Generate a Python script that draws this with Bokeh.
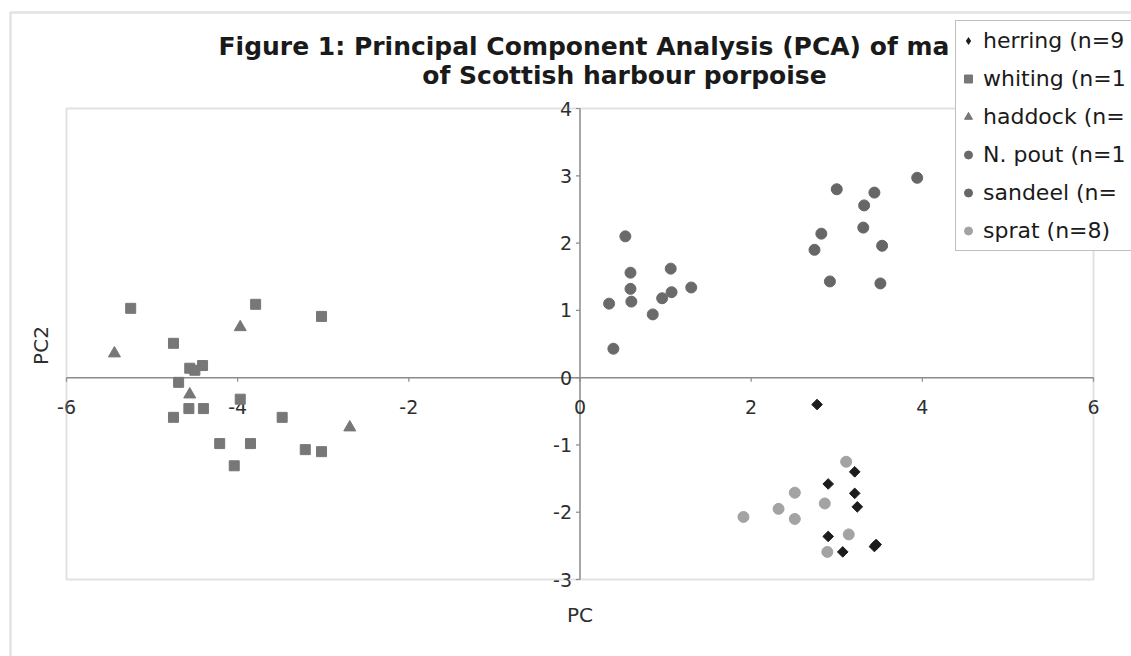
import math

from bokeh.plotting import figure
from bokeh.models import Range1d, Label, Legend, LegendItem, BoxAnnotation
from bokeh.embed import file_html
from bokeh.resources import INLINE

# PC1 / PC2 scores per prey species
herring_pc1 = [2.77, 3.21, 2.90, 3.21, 3.24, 2.90, 3.07, 3.44, 3.46]
herring_pc2 = [-0.40, -1.40, -1.58, -1.72, -1.92, -2.36, -2.59, -2.51, -2.48]

whiting_pc1 = [-5.25, -3.79, -3.02, -4.75, -4.41, -4.56, -4.50, -4.69, -3.97,
               -4.57, -4.40, -4.75, -3.48, -4.21, -3.85, -3.21, -3.02, -4.04]
whiting_pc2 = [1.03, 1.09, 0.91, 0.51, 0.18, 0.14, 0.11, -0.07, -0.32,
               -0.46, -0.46, -0.59, -0.59, -0.98, -0.98, -1.07, -1.10, -1.31]

haddock_pc1 = [-5.44, -3.97, -4.56, -2.69]
haddock_pc2 = [0.36, 0.75, -0.25, -0.74]

npout_pc1 = [0.53, 0.59, 0.59, 0.60, 0.34, 0.85, 0.96, 1.07, 1.06, 1.30, 0.39]
npout_pc2 = [2.10, 1.56, 1.32, 1.13, 1.10, 0.94, 1.18, 1.27, 1.62, 1.34, 0.43]

sandeel_pc1 = [3.00, 3.44, 3.32, 3.31, 2.82, 2.74, 3.53, 2.92, 3.51, 3.94]
sandeel_pc2 = [2.80, 2.75, 2.56, 2.23, 2.14, 1.90, 1.96, 1.43, 1.40, 2.97]

sprat_pc1 = [3.11, 2.51, 2.86, 2.32, 1.91, 2.51, 3.14, 2.89]
sprat_pc2 = [-1.25, -1.71, -1.87, -1.95, -2.07, -2.10, -2.33, -2.59]

# legend entries run off the right edge of the page, so only their
# leading part is shown
legend_labels = ["herring (n=9", "whiting (n=1", "haddock (n=",
                 "N. pout (n=1", "sandeel (n=", "sprat (n=8)"]

x_ticks = [-6, -4, -2, 0, 2, 4, 6]
y_ticks = [-3, -2, -1, 0, 1, 2, 3, 4]

title_line1 = "Figure 1: Principal Component Analysis (PCA) of ma"
title_line2 = "of Scottish harbour porpoise"
x_title = "PC"
y_title = "PC2"

# page and plot-area geometry in pixels; the plot area spans X0..X1, Y0..Y1
W, H = 1131, 656
PL, PT, PR, PB = 66, 108, 1093, 579
X0, X1, Y0, Y1 = -6, 6, -3, 4
KX = (X1 - X0) / (PR - PL)
KY = (Y1 - Y0) / (PB - PT)


def at_x(px):
    return X0 + (px - PL) * KX


def at_y(py):
    return Y1 - (py - PT) * KY


p = figure(width=W, height=H,
           x_range=Range1d(at_x(0), at_x(W)), y_range=Range1d(at_y(H), at_y(0)),
           min_border=0, title=None,
           x_axis_location=None, y_axis_location=None,
           output_backend="svg", toolbar_location=None, tools="",
           background_fill_color="white", border_fill_color="white")
p.grid.visible = False
p.outline_line_color = None

FONT = "DejaVu Sans"
AXIS_GRAY = "#8a8a8a"
BORDER_GRAY = "#a0a0a0"
HERRING = "#1c1c1c"

# outer chart border (its right and bottom edges lie beyond the page)
p.add_layout(BoxAnnotation(left=at_x(10), right=at_x(W + 80),
                           top=at_y(12), bottom=at_y(H + 80),
                           fill_color=None, line_color=BORDER_GRAY,
                           line_width=2.5))
# plot-area border
p.add_layout(BoxAnnotation(left=X0, right=X1, bottom=Y0, top=Y1,
                           fill_color=None, line_color="#9a9a9a",
                           line_width=2))

# axes crossing at the origin
p.segment(x0=[X0], y0=[0], x1=[X1], y1=[0], line_color=AXIS_GRAY, line_width=1.5)
p.segment(x0=[0], y0=[Y0], x1=[0], y1=[Y1], line_color=AXIS_GRAY, line_width=1.5)
p.ray(x=x_ticks, y=[0] * len(x_ticks), length=4, length_units="screen",
      angle=-math.pi / 2, line_color=AXIS_GRAY, line_width=1.2)
p.ray(x=[0] * len(y_ticks), y=y_ticks, length=4, length_units="screen",
      angle=math.pi, line_color=AXIS_GRAY, line_width=1.2)
p.text(x=x_ticks, y=[0] * len(x_ticks), text=[str(t) for t in x_ticks],
       y_offset=29, text_align="center", text_baseline="middle",
       text_font={"value": FONT}, text_font_size="19px", text_color="#2e2e2e")
p.text(x=[0] * len(y_ticks), y=y_ticks, text=[str(t) for t in y_ticks],
       x_offset=-8, text_align="right", text_baseline="middle",
       text_font={"value": FONT}, text_font_size="19px", text_color="#2e2e2e")

# herring points are drawn as diamonds (squares turned by 45 degrees)
r_herring = p.scatter(herring_pc1, herring_pc2, marker="square", angle=math.pi / 4,
                      size=7.5, fill_color=HERRING, line_color=HERRING)
r_whiting = p.scatter(whiting_pc1, whiting_pc2, marker="square", size=10,
                      fill_color="#777777", line_color="#777777")
r_haddock = p.scatter(haddock_pc1, haddock_pc2, marker="triangle", size=12,
                      fill_color="#777777", line_color="#777777")
r_npout = p.scatter(npout_pc1, npout_pc2, marker="circle", size=11,
                    fill_color="#6a6a6a", line_color="#6a6a6a")
r_sandeel = p.scatter(sandeel_pc1, sandeel_pc2, marker="circle", size=11,
                      fill_color="#666666", line_color="#666666")
r_sprat = p.scatter(sprat_pc1, sprat_pc2, marker="circle", size=11,
                    fill_color="#a3a3a3", line_color="#a3a3a3")

# legend key for herring: the legend draws markers unrotated, so it uses the
# diamond marker (zero size on the plot itself)
herring_key = p.scatter(herring_pc1, herring_pc2, marker="diamond", size=0,
                        fill_color=HERRING, line_color=None)

renderers = [herring_key, r_whiting, r_haddock, r_npout, r_sandeel, r_sprat]

# titles and axis titles
p.add_layout(Label(x=at_x(218), y=at_y(46), text=title_line1,
                   text_align="left", text_baseline="middle",
                   text_font=FONT, text_font_style="bold",
                   text_font_size="25px", text_color="#1a1a1a"))
p.add_layout(Label(x=at_x(624), y=at_y(75), text=title_line2,
                   text_align="center", text_baseline="middle",
                   text_font=FONT, text_font_style="bold",
                   text_font_size="25px", text_color="#1a1a1a"))
p.add_layout(Label(x=0, y=at_y(614), text=x_title,
                   text_align="center", text_baseline="middle",
                   text_font=FONT, text_font_size="20px", text_color="#2e2e2e"))
p.add_layout(Label(x=at_x(40), y=at_y(345), text=y_title, angle=math.pi / 2,
                   text_align="center", text_baseline="middle",
                   text_font=FONT, text_font_size="20px", text_color="#2e2e2e"))

legend = Legend(items=[LegendItem(label=lab, renderers=[r])
                       for lab, r in zip(legend_labels, renderers)],
                location=(955, H - 251), margin=0, padding=2,
                spacing=3, glyph_width=20, glyph_height=35, label_height=35,
                label_width=240, label_standoff=5, label_text_font=FONT,
                label_text_font_size="22px", label_text_color="#1a1a1a",
                border_line_color="#808080", border_line_width=1.5,
                background_fill_color="white", background_fill_alpha=1)
p.add_layout(legend)

open("out.html", "w").write(file_html(p, INLINE))
